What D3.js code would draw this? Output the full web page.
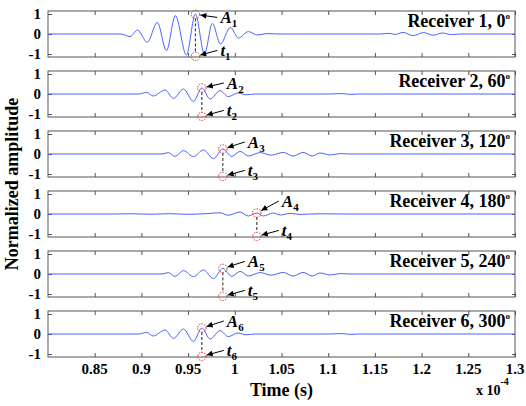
<!DOCTYPE html>
<html>
<head>
<meta charset="utf-8">
<script src="https://cdn.jsdelivr.net/npm/d3@7"></script>
<style>
  body { margin: 0; background: #fff; }
  svg { display: block; }
  svg text { font-family: "Liberation Serif", "DejaVu Serif", serif; }
</style>
</head>
<body>
<div id="chart"></div>
<script>
// ---- data (time in 1e-4 s, normalized amplitude) ----
const receiverNames = ["Receiver 1, 0", "Receiver 2, 60", "Receiver 3, 120",
                       "Receiver 4, 180", "Receiver 5, 240", "Receiver 6, 300"];

const wave1 = [[0.80,0],[0.878,0],[0.888,-0.13],[0.8957,0.2],[0.9064,-0.42],[0.917,0.58],
  [0.9268,-0.83],[0.9364,0.92],[0.9482,-1.05],[0.9578,1.0],[0.9675,-1.0],[0.976,0.53],
  [0.9846,-0.5],[0.9953,0.33],[1.0039,-0.2],[1.0146,0.12],[1.0243,-0.05],[1.034,0.02],
  [1.05,0],[1.155,0],[1.165,0.03],[1.172,-0.02],[1.180,0.08],[1.191,-0.08],[1.2018,0.07],
  [1.2125,-0.06],[1.222,0.05],[1.232,-0.03],[1.242,0],[1.30,0]];
const wave2 = [[0.80,0],[0.897,0],[0.9058,0.08],[0.9125,-0.1],[0.9254,0.2],[0.9343,-0.22],
  [0.945,0.25],[0.9557,-0.37],[0.9647,0.3],[0.9736,-0.25],[0.9843,0.17],[0.9929,-0.13],
  [1.0036,0.05],[1.012,-0.04],[1.022,0],[1.10,0],[1.115,0.02],[1.124,-0.02],[1.134,0],[1.30,0]];
const wave3 = [[0.80,0],[0.922,0],[0.9289,0.07],[0.9361,-0.12],[0.945,0.17],[0.9557,-0.13],
  [0.9664,0.2],[0.9771,-0.23],[0.9872,0.25],[0.9968,-0.12],[1.0057,0.13],[1.0146,-0.1],
  [1.0271,0.07],[1.0389,-0.06],[1.0518,0.08],[1.0625,-0.1],[1.0732,0.08],[1.0829,-0.1],
  [1.0914,0.05],[1.1021,-0.05],[1.1129,0.02],[1.1236,0],[1.30,0]];
const wave4 = [[0.80,0],[0.87,0],[0.89,0.012],[0.91,-0.012],[0.93,0.015],[0.95,-0.015],
  [0.97,0.02],[0.9843,0.06],[0.9929,-0.06],[1.0057,0.1],[1.0143,-0.1],[1.0236,0.05],
  [1.0304,-0.1],[1.0411,0.05],[1.0486,-0.05],[1.0593,0.03],[1.07,-0.02],[1.09,0.01],
  [1.12,0],[1.30,0]];
const wave5 = [[0.80,0],[0.922,0],[0.9289,0.07],[0.9361,-0.12],[0.945,0.17],[0.9557,-0.13],
  [0.9664,0.2],[0.9771,-0.23],[0.9872,0.28],[0.9968,-0.12],[1.0057,0.13],[1.0146,-0.1],
  [1.0271,0.07],[1.0389,-0.06],[1.0518,0.08],[1.0625,-0.1],[1.0732,0.08],[1.0829,-0.1],
  [1.0914,0.05],[1.1021,-0.05],[1.1129,0.02],[1.1236,0],[1.30,0]];
const wave6 = [[0.80,0],[0.897,0],[0.9058,0.08],[0.9125,-0.1],[0.9254,0.2],[0.9343,-0.22],
  [0.945,0.25],[0.9557,-0.37],[0.9647,0.3],[0.9736,-0.25],[0.9843,0.17],[0.9929,-0.13],
  [1.0036,0.05],[1.012,-0.04],[1.022,0],[1.10,0],[1.115,0.02],[1.124,-0.02],[1.134,0],[1.30,0]];
const waves = [wave1, wave2, wave3, wave4, wave5, wave6];

// picked peak (A) and its arrival time (t)
const peakTimes = [0.9578, 0.9647, 0.9872, 1.0236, 0.9872, 0.9647];
const peakAmps  = [0.98, 0.3, 0.25, 0.05, 0.28, 0.3];
const tMarkerLevel = -1.12;

const xTicks = [0.85, 0.9, 0.95, 1, 1.05, 1.1, 1.15, 1.2, 1.25, 1.3];
const xTickLabels = ["0.85", "0.9", "0.95", "1", "1.05", "1.1", "1.15", "1.2", "1.25", "1.3"];
const yTicks = [-1, 0, 1];
const yTickLabels = ["-1", "0", "1"];

// ---- layout ----
const W = 526, H = 406;
const left = 48, right = 515;
const panelTop = 11, panelStep = 60, panelH = 46;
const axisCol = "#555";
const serif = "'Liberation Serif','DejaVu Serif',serif";

const svg = d3.select("#chart").append("svg")
    .attr("width", W).attr("height", H);

svg.append("defs").append("marker")
    .attr("id", "arr")
    .attr("viewBox", "0 0 10 10")
    .attr("refX", 10).attr("refY", 5)
    .attr("markerWidth", 7).attr("markerHeight", 6)
    .attr("markerUnits", "userSpaceOnUse")
    .attr("orient", "auto")
    .append("path").attr("d", "M0,0L10,5L0,10z").attr("fill", "#000");

const x = d3.scaleLinear().domain([0.8, 1.3]).range([left, right]);

waves.forEach(function (wave, i) {
    const top = panelTop + i * panelStep;
    const y = d3.scaleLinear().domain([-1.15, 1.15]).range([top + panelH, top]);
    const g = svg.append("g");

    // box
    g.append("rect")
        .attr("x", left).attr("y", top)
        .attr("width", right - left).attr("height", panelH)
        .attr("fill", "none").attr("stroke", axisCol).attr("stroke-width", 1);

    // ticks (inside)
    g.append("g").attr("transform", `translate(0,${top + panelH})`)
        .call(d3.axisBottom(x).tickValues(xTicks).tickSize(-4).tickFormat(""))
        .call(a => a.select(".domain").remove())
        .selectAll("line").attr("stroke", axisCol);
    g.append("g").attr("transform", `translate(0,${top})`)
        .call(d3.axisTop(x).tickValues(xTicks).tickSize(-4).tickFormat(""))
        .call(a => a.select(".domain").remove())
        .selectAll("line").attr("stroke", axisCol);
    g.append("g").attr("transform", `translate(${left},0)`)
        .call(d3.axisLeft(y).tickValues(yTicks).tickSize(-4)
            .tickFormat((d, k) => yTickLabels[k]))
        .call(a => a.select(".domain").remove())
        .call(a => a.selectAll("line").attr("stroke", axisCol))
        .call(a => a.selectAll("text")
            .attr("x", -7)
            .attr("font-family", serif)
            .attr("font-weight", "bold").attr("font-size", 15).attr("fill", "#000"));
    g.append("g").attr("transform", `translate(${right},0)`)
        .call(d3.axisRight(y).tickValues(yTicks.slice(0, 2)).tickSize(-3).tickFormat(""))
        .call(a => a.select(".domain").remove())
        .selectAll("line").attr("stroke", axisCol);

    // waveform
    g.append("path")
        .datum(wave)
        .attr("fill", "none")
        .attr("stroke", "#4a63ff")
        .attr("stroke-width", 1)
        .attr("d", d3.line().x(d => x(d[0])).y(d => y(d[1])).curve(d3.curveMonotoneX));

    // receiver label
    const lab = g.append("text")
        .attr("x", 510).attr("y", top + 16)
        .attr("text-anchor", "end")
        .attr("font-weight", "bold").attr("font-size", 18);
    lab.append("tspan").text(receiverNames[i]);
    lab.append("tspan").attr("dy", -8).attr("font-size", 9).text("o");

    // A / t markers
    const cx = x(peakTimes[i]);
    const cyA = y(peakAmps[i]);
    const cyT = y(tMarkerLevel);
    g.append("line")
        .attr("x1", cx).attr("x2", cx).attr("y1", cyA + 4).attr("y2", cyT - 4)
        .attr("stroke", "#222").attr("stroke-width", 1).attr("stroke-dasharray", "3,2");
    [cyA, cyT].forEach(function (cy) {
        g.append("circle")
            .attr("cx", cx).attr("cy", cy).attr("r", 4.2)
            .attr("fill", "none").attr("stroke", "#ff2020")
            .attr("stroke-width", 1).attr("stroke-dasharray", "1.5,1.2");
    });

    const aDy = [9, 1, -1, -6, -1, -1][i];
    const labels = [{ s: "A", cy: cyA, by: cyA + aDy }, { s: "t", cy: cyT, by: cyT }];
    labels.forEach(function (L) {
        const lx = cx + 25;
        const sx = lx - 3, sy = L.by - 6;
        const dx = cx - sx, dy = L.cy - sy;
        const len = Math.hypot(dx, dy);
        g.append("line")
            .attr("x1", sx).attr("y1", sy)
            .attr("x2", sx + dx * (len - 5) / len).attr("y2", sy + dy * (len - 5) / len)
            .attr("stroke", "#000").attr("stroke-width", 1)
            .attr("marker-end", "url(#arr)");
        const t = g.append("text")
            .attr("x", lx).attr("y", L.by)
            .attr("font-weight", "bold").attr("font-size", 17);
        t.append("tspan").attr("font-style", "italic").text(L.s);
        t.append("tspan").attr("dy", 4).attr("font-size", 11).text(i + 1);
    });
});

// x tick labels under last panel
const lastBottom = panelTop + 5 * panelStep + panelH;
svg.append("g").selectAll("text")
    .data(xTicks)
    .join("text")
    .attr("x", d => x(d))
    .attr("y", lastBottom + 17)
    .attr("text-anchor", "middle")
    .attr("font-weight", "bold").attr("font-size", 15)
    .text((d, k) => xTickLabels[k]);

// axis titles
svg.append("text")
    .attr("x", (left + right) / 2).attr("y", 396)
    .attr("text-anchor", "middle")
    .attr("font-weight", "bold").attr("font-size", 18)
    .text("Time (s)");

const ex = svg.append("text")
    .attr("x", 476).attr("y", 395)
    .attr("font-weight", "bold").attr("font-size", 14);
ex.append("tspan").text("x 10");
ex.append("tspan").attr("dy", -10).attr("font-size", 10).text("-4");

svg.append("text")
    .attr("transform", `translate(18,${panelTop + (5 * panelStep + panelH) / 2}) rotate(-90)`)
    .attr("text-anchor", "middle")
    .attr("font-weight", "bold").attr("font-size", 18)
    .text("Normalized amplitude");
</script>
</body>
</html>
